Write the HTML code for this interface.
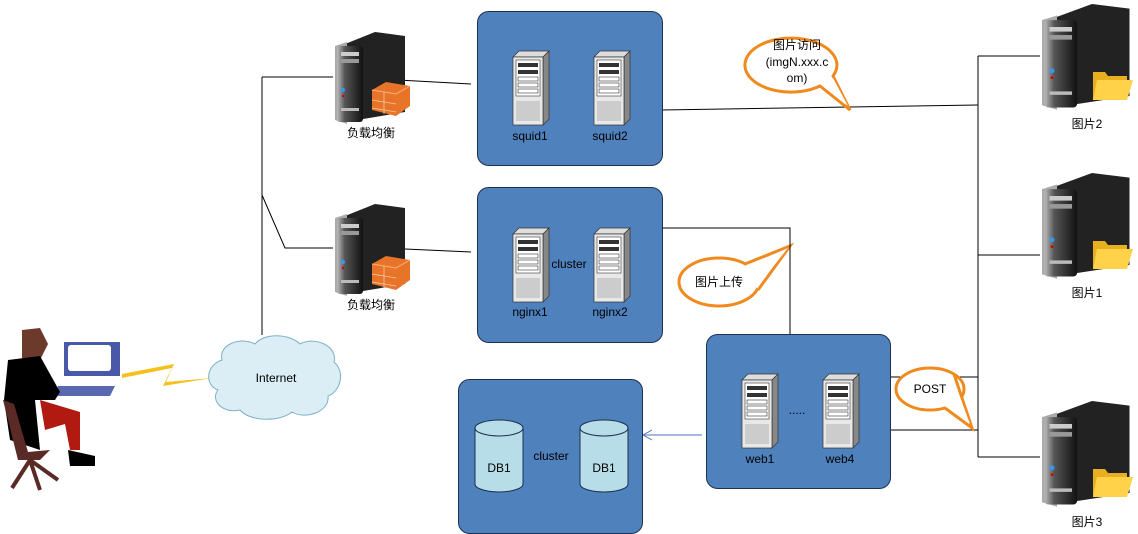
<!DOCTYPE html>
<html><head><meta charset="utf-8"><style>
body{margin:0;background:#fff}
svg{display:block}
text{font-family:"Liberation Sans","Noto Sans CJK SC",sans-serif;font-size:12px;fill:#000}
</style></head><body>
<svg width="1138" height="534" viewBox="0 0 1138 534" xmlns="http://www.w3.org/2000/svg">
<defs>
<linearGradient id="srv" x1="0" x2="1"><stop offset="0" stop-color="#bbb"/><stop offset="0.3" stop-color="#555"/><stop offset="1" stop-color="#111"/></linearGradient>
<g id="big">
 <path d="M10 12 L40 0 L70 4 L70 80 L10 90 Z" fill="#222"/>
 <path d="M0 14 L12 10 L12 92 L0 88 Z" fill="#aaa"/>
 <rect x="2" y="14" width="26" height="76" rx="3" fill="url(#srv)"/>
 <rect x="6" y="20" width="18" height="4" fill="#ccc"/><rect x="6" y="27" width="18" height="4" fill="#999"/>
 <circle cx="8" cy="58" r="2" fill="#39f"/><circle cx="8" cy="64" r="1.2" fill="#c00"/>
 <rect x="6" y="76" width="18" height="3" fill="#bbb"/>
</g>
<g id="rack">
 <path d="M0 6 L6 0 L36 0 L30 6 Z" fill="#ddd" stroke="#333" stroke-width=".7"/>
 <path d="M30 6 L36 0 L36 68 L30 74 Z" fill="#888" stroke="#333" stroke-width=".7"/>
 <rect x="0" y="6" width="30" height="68" fill="#e8e8e8" stroke="#333" stroke-width=".7"/>
 <rect x="3" y="9" width="24" height="36" fill="#fff" stroke="#333" stroke-width=".6"/>
 <rect x="5" y="12" width="20" height="4" fill="#333"/><rect x="5" y="19" width="20" height="4" fill="#333"/>
 <rect x="5" y="26" width="20" height="4" fill="none" stroke="#333" stroke-width=".6"/><rect x="5" y="32" width="20" height="4" fill="none" stroke="#333" stroke-width=".6"/><rect x="5" y="38" width="20" height="4" fill="none" stroke="#333" stroke-width=".6"/>
 <rect x="3" y="50" width="24" height="20" fill="#ccc"/>
</g>
<g id="fw">
 <path d="M0 8 L14 0 L38 4 L38 24 L24 34 L0 28 Z" fill="#e8742a"/>
 <path d="M0 8 L24 12 L38 4" fill="none" stroke="#f9b27a" stroke-width="1"/>
 <path d="M0 18 L24 22 M0 26 L24 30 M12 10 V32" stroke="#f6c9a0" stroke-width=".8" fill="none"/>
</g>
<g id="folder">
 <path d="M0 6 L12 6 L15 10 L34 10 L34 34 L0 34 Z" fill="#e8b020"/>
 <path d="M4 14 L40 14 L34 34 L0 34 Z" fill="#ffd24a"/>
</g>
</defs>

<g stroke="#000" stroke-width="1" fill="none">
<path d="M262 77 V335"/><path d="M262 77 H333"/>
<path d="M262 195 L285 248 H333"/>
<path d="M398 80 L471 84"/><path d="M405 249 L471 252"/>
<path d="M662 110 L978 105"/><path d="M978 56 V457"/>
<path d="M978 56 H1040 M978 255 H1040 M978 457 H1040"/>
<path d="M662 228 H790 V334"/>
<path d="M890 377 H978 M890 430 H978"/>
</g>
<path d="M702 435 H644" stroke="#4a74c0" stroke-width="1"/>
<path d="M652 430 L643 435 L652 440" stroke="#4a74c0" fill="none"/>

<g fill="#4f81bd" stroke="#1e3050" stroke-width="1">
<rect x="477.5" y="11.5" width="185" height="154" rx="11"/>
<rect x="477.5" y="187.5" width="185" height="155" rx="11"/>
<rect x="706.5" y="334.5" width="184" height="154" rx="11"/>
<rect x="458.5" y="379.5" width="184" height="154" rx="11"/>
</g>

<use href="#rack" x="513" y="51"/><use href="#rack" x="594" y="51"/>
<text x="530" y="140" text-anchor="middle">squid1</text><text x="610" y="140" text-anchor="middle">squid2</text>
<use href="#rack" x="513" y="228"/><use href="#rack" x="594" y="228"/>
<text x="530" y="316" text-anchor="middle">nginx1</text><text x="610" y="316" text-anchor="middle">nginx2</text>
<text x="569" y="268" text-anchor="middle">cluster</text>
<use href="#rack" x="742" y="374"/><use href="#rack" x="823" y="374"/>
<text x="760" y="463" text-anchor="middle">web1</text><text x="840" y="463" text-anchor="middle">web4</text>
<text x="797" y="414" text-anchor="middle">.....</text>

<g fill="#b6dde8" stroke="#1e3050">
<path d="M475 428 V484 A24 8 0 0 0 523 484 V428"/><ellipse cx="499" cy="428" rx="24" ry="8"/>
<path d="M580 428 V484 A24 8 0 0 0 628 484 V428"/><ellipse cx="604" cy="428" rx="24" ry="8"/>
</g>
<text x="499" y="472" text-anchor="middle">DB1</text><text x="604" y="472" text-anchor="middle">DB1</text>
<text x="551" y="460" text-anchor="middle">cluster</text>

<use href="#big" x="335" y="32"/><use href="#fw" x="372" y="82"/>
<text x="371" y="137" text-anchor="middle">负载均衡</text>
<use href="#big" x="335" y="204"/><use href="#fw" x="372" y="256"/>
<text x="371" y="309" text-anchor="middle">负载均衡</text>

<g transform="translate(1042,4) scale(1.25,1.15)"><use href="#big"/></g><use href="#folder" x="1093" y="66"/>
<text x="1087" y="128" text-anchor="middle">图片2</text>
<g transform="translate(1042,173) scale(1.25,1.15)"><use href="#big"/></g><use href="#folder" x="1093" y="235"/>
<text x="1087" y="297" text-anchor="middle">图片1</text>
<g transform="translate(1042,401) scale(1.25,1.15)"><use href="#big"/></g><use href="#folder" x="1093" y="463"/>
<text x="1087" y="526" text-anchor="middle">图片3</text>

<g fill="#fff" stroke="#f08a1e" stroke-width="3">
<path d="M820 86 A46 27 0 1 1 833 76 L850 110 Z"/>
<ellipse cx="719" cy="282" rx="40" ry="24"/>
<path d="M745 264 L790 246 L758 290" />
<ellipse cx="930" cy="389" rx="34" ry="21"/>
<path d="M954 374 L972 428 L945 408"/>
</g>
<g fill="#fff"><path d="M746 267 L788 248 L756 288 Z"/><path d="M953 378 L970 424 L947 404 Z"/><path d="M820 84 L848 106 L833 78 Z"/></g>
<path d="M790 228 V334" stroke="#000" stroke-width="1"/>
<text x="797" y="49" text-anchor="middle">图片访问</text>
<text x="797" y="66" text-anchor="middle">(imgN.xxx.c</text>
<text x="797" y="82" text-anchor="middle">om)</text>
<text x="719" y="286" text-anchor="middle">图片上传</text>
<text x="930" y="393" text-anchor="middle">POST</text>

<path d="M222 360 C218 345 240 336 255 344 C265 332 290 334 300 344 C315 336 338 346 334 362 C346 372 340 392 328 396 C330 412 305 420 292 412 C280 422 250 422 240 410 C222 414 210 400 218 390 C204 385 206 365 222 360 Z" fill="#dbeef6" stroke="#7fb0c4"/>
<text x="276" y="382" text-anchor="middle">Internet</text>

<path d="M122 378 L172 368 L163 386 L212 378 L166 382 L174 364 L122 374 Z" fill="#f5c020"/>

<path d="M64 342 L120 342 L120 376 L64 376 Z" fill="#4a58a8"/>
<rect x="68" y="345" width="43" height="26" rx="3" fill="#fff"/>
<path d="M58 386 L115 386 L110 396 L55 396 Z" fill="#5a68b0"/>
<path d="M22 330 L40 328 L48 344 L40 360 L22 358 Z" fill="#6b3a2a"/>
<path d="M8 360 L40 356 L60 392 L55 400 L35 400 L40 450 L10 440 L4 400 Z" fill="#000"/>
<path d="M40 400 L80 412 L80 450 L70 450 L65 424 L45 430 Z" fill="#b01a10"/>
<path d="M3 400 L18 460 L40 460 L50 450 L28 452 L14 404 Z" fill="#5a2a26"/>
<path d="M30 460 L12 488 M30 460 L58 480 M30 460 L40 490" stroke="#5a2a26" stroke-width="4"/>
<path d="M68 450 L95 456 L95 466 L70 466 Z" fill="#000"/>
</svg>
</body></html>
